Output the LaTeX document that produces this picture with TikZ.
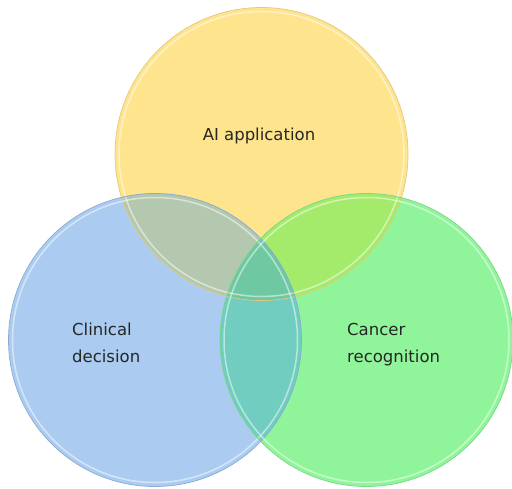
\documentclass[tikz,border=0pt]{standalone}
\usepackage{fontspec}
\setmainfont{DejaVu Sans}
\usepackage{tikz}
\definecolor{aiyellow}{HTML}{FFE48E}
\definecolor{clinblue}{HTML}{ABCCF0}
\definecolor{cangreen}{HTML}{90F59A}
\definecolor{aiclin}{HTML}{B3C8AF}
\definecolor{aican}{HTML}{A4EB6C}
\definecolor{clincan}{HTML}{70CDC0}
\definecolor{allthree}{HTML}{6EC8A2}
\definecolor{aiedge}{HTML}{E3C97C}
\definecolor{clinedge}{HTML}{8AAAD2}
\definecolor{canedge}{HTML}{78D885}

\begin{document}
\begin{tikzpicture}[x=1pt, y=-1pt,
    venn/.style={circle, minimum size=293pt, inner sep=0pt},
    vtext/.style={font=\fontsize{16.5}{26.5}\selectfont, text=black!85,
      align=left, inner sep=0pt}]
        \useasboundingbox (0,0) rectangle (512,488);
        % the three sets
        \node[venn, fill=aiyellow] (ai) at (261.5,154) {};
        \node[venn, fill=clinblue] (clin) at (155,340) {};
        \node[venn, fill=cangreen] (canc) at (366.5,340) {};
        % pairwise overlaps
        \begin{scope}
        \clip (ai.center) circle (146.5pt);
        \fill[aiclin] (clin.center) circle (146.5pt);
        \fill[aican] (canc.center) circle (146.5pt);
        \end{scope}
        \begin{scope}
        \clip (clin.center) circle (146.5pt);
        \fill[clincan] (canc.center) circle (146.5pt);
        \clip (ai.center) circle (146.5pt);
        \fill[allthree] (canc.center) circle (146.5pt);
        \end{scope}
        % rims
        \foreach \c/\col in {ai/aiedge, clin/clinedge, canc/canedge}
        {
        \draw[\col, line width=0.7pt] (\c.center) circle (146.5pt);
        \draw[white, opacity=0.5, line width=1.5pt] (\c.center) circle (142.5pt);
        }
        \node[vtext, anchor=base] (aitext) at (259,140) {AI application};
        \node[vtext, anchor=base west] (clintext) at (72,362) {Clinical\\decision};
        \node[vtext, anchor=base west] (cantext) at (347,362) {Cancer\\recognition};
\end{tikzpicture}
\end{document}
